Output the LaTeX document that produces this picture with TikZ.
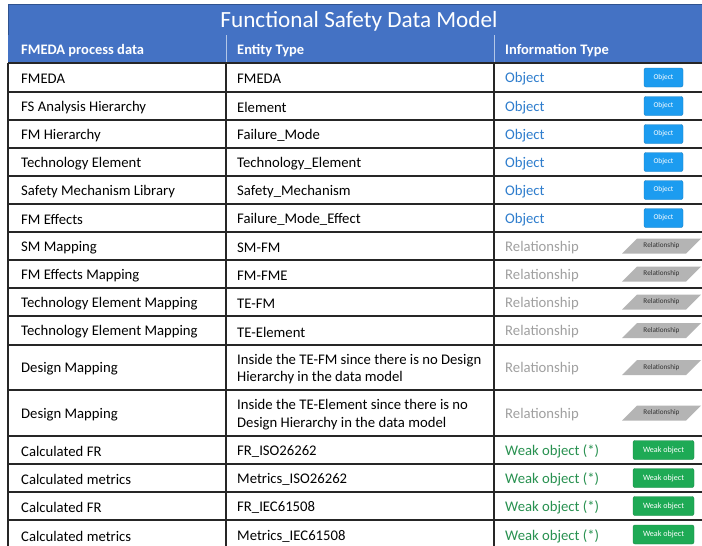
\documentclass[tikz,border=0pt]{standalone}
\usepackage{fontspec}
\setmainfont{Carlito}
\definecolor{hdrblue}{RGB}{68,114,196}
\definecolor{titleedge}{RGB}{47,82,143}
\definecolor{objtext}{RGB}{46,125,205}
\definecolor{objbadge}{RGB}{28,156,240}
\definecolor{reltext}{RGB}{160,160,160}
\definecolor{relbadge}{RGB}{180,180,180}
\definecolor{weaktext}{RGB}{40,145,80}
\definecolor{weakbadge}{RGB}{30,170,85}
\tikzset{
  cell/.style={anchor=west, inner sep=0pt, font=\fontsize{14.7}{17.5}\selectfont, align=left},
  hdr/.style={anchor=west, inner sep=0pt, text=white, font=\bfseries\fontsize{14.5}{16}\selectfont},
  grid/.style={line width=1.4pt, draw=black!85},
  objinfo/.style={cell, text=objtext, node contents={Object}},
  relinfo/.style={cell, text=reltext, node contents={Relationship}},
  weakinfo/.style={cell, text=weaktext, node contents={Weak object (*)}},
  objbadgebox/.style={fill=objbadge, draw=objbadge!80!black, line width=0.4pt, rounded corners=2pt,
    minimum width=39pt, minimum height=19pt, inner sep=0pt, text=white,
    font=\fontsize{7.4}{8}\selectfont, node contents={Object}},
  weakbadgebox/.style={fill=weakbadge, draw=weakbadge!80!black, line width=0.4pt, rounded corners=2pt,
    minimum width=61pt, minimum height=19pt, inner sep=0pt, text=white,
    font=\fontsize{8.1}{9}\selectfont, node contents={Weak object}},
  relbadgebox/.style={inner sep=0pt, text=black!80, font=\fontsize{7.2}{8}\selectfont,
    node contents={Relationship}},
}
\begin{document}
\begin{tikzpicture}[x=1pt,y=-1pt]
\useasboundingbox (0,0) rectangle (702,546);
\fill[white] (0,0) rectangle (702,546);

% title bar
\draw[fill=hdrblue, draw=titleedge, line width=1pt] (8,4) rectangle (712,35);
\node[text=white, inner sep=0pt, font=\fontsize{23.2}{27}\selectfont] (title) at (359,21) {Functional Safety Data Model};

% column header row
\fill[hdrblue] (8,35) rectangle (712,63);
\draw[white!60!hdrblue, line width=1pt] (226,35) -- (226,63) (494,35) -- (494,63);
\node[hdr] (h1) at (21,51) {FMEDA process data};
\node[hdr] (h2) at (237,51) {Entity Type};
\node[hdr] (h3) at (505,51) {Information Type};

% body rows: top / bottom / process data / entity type / information type
\foreach \ya/\yb/\pa/\pb/\kind [count=\n] in {
  63/92/{FMEDA}/{FMEDA}/obj,
  92/120/{FS Analysis Hierarchy}/{Element}/obj,
  120/148/{FM Hierarchy}/{Failure\_Mode}/obj,
  148/176/{Technology Element}/{Technology\_Element}/obj,
  176/204/{Safety Mechanism Library}/{Safety\_Mechanism}/obj,
  204/232/{FM Effects}/{Failure\_Mode\_Effect}/obj,
  232/260/{SM Mapping}/{SM-FM}/rel,
  260/288/{FM Effects Mapping}/{FM-FME}/rel,
  288/316/{Technology Element Mapping}/{TE-FM}/rel,
  316/345/{Technology Element Mapping}/{TE-Element}/rel,
  345/390/{Design Mapping}/{Inside the TE-FM since there is no Design\\Hierarchy in the data model}/rel,
  390/436/{Design Mapping}/{Inside the TE-Element since there is no\\Design Hierarchy in the data model}/rel,
  436/464/{Calculated FR}/{FR\_ISO26262}/weak,
  464/492/{Calculated metrics}/{Metrics\_ISO26262}/weak,
  492/520/{Calculated FR}/{FR\_IEC61508}/weak,
  520/549/{Calculated metrics}/{Metrics\_IEC61508}/weak}
{
  \pgfmathsetmacro\ym{(\ya+\yb)/2}
  \pgfmathsetmacro\yt{\ym+1.5}
  \draw[grid] (8,\ya) -- (712,\ya);
  \draw[grid] (8,\ya) -- (8,\yb) (226,\ya) -- (226,\yb) (494,\ya) -- (494,\yb);
  \node[cell] (p\n) at (21,\yt) {\pa};
  \node[cell] (e\n) at (237,\yt) {\pb};
  \node (i\n) at (505,\yt) [\kind info];
  \ifnum\n<7
    \node (b\n) at (663.5,\ym) [objbadgebox];
  \else\ifnum\n<13
    \fill[relbadge] (622,\ym+7.5) -- (686,\ym+7.5) -- (701,\ym-7.5) -- (637,\ym-7.5) -- cycle;
    \node (b\n) at (661.5,\ym) [relbadgebox];
  \else
    \node (b\n) at (663.5,\ym) [weakbadgebox];
  \fi\fi
}
\end{tikzpicture}
\end{document}
